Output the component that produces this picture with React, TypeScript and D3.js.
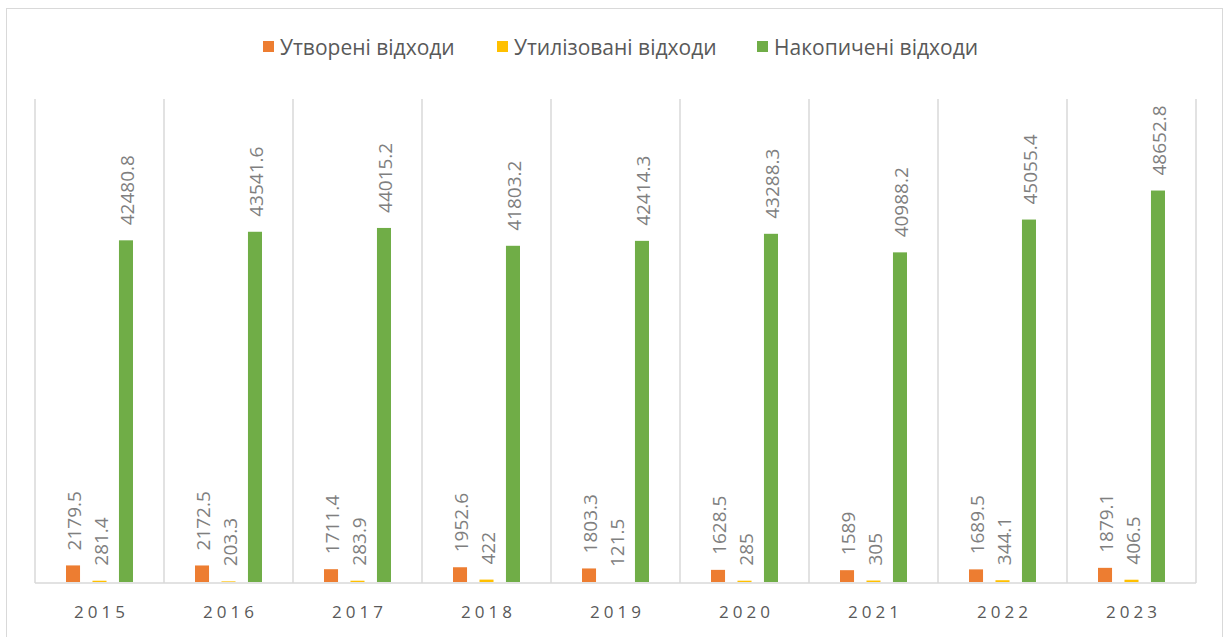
import React from "react";
import * as d3 from "d3";

const years = ["2015", "2016", "2017", "2018", "2019", "2020", "2021", "2022", "2023"];
const seriesNames = ["Утворені відходи", "Утилізовані відходи", "Накопичені відходи"];
const generated = [2179.5, 2172.5, 1711.4, 1952.6, 1803.3, 1628.5, 1589, 1689.5, 1879.1];
const utilized = [281.4, 203.3, 283.9, 422, 121.5, 285, 305, 344.1, 406.5];
const accumulated = [42480.8, 43541.6, 44015.2, 41803.2, 42414.3, 43288.3, 40988.2, 45055.4, 48652.8];
const labelsGenerated = ["2179.5", "2172.5", "1711.4", "1952.6", "1803.3", "1628.5", "1589", "1689.5", "1879.1"];
const labelsUtilized = ["281.4", "203.3", "283.9", "422", "121.5", "285", "305", "344.1", "406.5"];
const labelsAccumulated = ["42480.8", "43541.6", "44015.2", "41803.2", "42414.3", "43288.3", "40988.2", "45055.4", "48652.8"];
const colors = ["#ED7D31", "#FFC000", "#70AD47"];

const W = 1225;
const H = 637;
const left = 35;
const right = 1196;
const top = 99;
const bottom = 583;
const FONT = "'Open Sans', 'Noto Sans', sans-serif";

export default function App() {
  const x = d3.scaleBand<string>().domain(years).range([left, right]).paddingInner(0).paddingOuter(0);
  const inner = d3.scaleBand<number>().domain([0, 1, 2]).range([31, x.bandwidth() - 31]).paddingInner(0.47).paddingOuter(0);
  const y = d3.scaleLinear().domain([0, 60000]).range([bottom, top]);
  const series = [generated, utilized, accumulated];
  const labels = [labelsGenerated, labelsUtilized, labelsAccumulated];
  const bw = inner.bandwidth();

  const legendX = [263, 497, 757];

  return (
    <div style={{ position: "absolute", left: 0, top: 0, margin: 0 }}>
      <svg width={W} height={H} style={{ display: "block", fontFamily: FONT }}>
        <rect x={0} y={0} width={W} height={H} fill="#fff" />
        <rect x={6.5} y={8.5} width={1216} height={H + 10} fill="#fff" stroke="#d9d9d9" strokeWidth={1} />
        {/* legend */}
        {seriesNames.map((n, i) => (
          <g key={n}>
            <rect x={legendX[i]} y={41} width={11} height={11} fill={colors[i]} />
            <text x={legendX[i] + 17} y={54.5} fontSize={21} fill="#595959">{n}</text>
          </g>
        ))}
        {/* grid */}
        {[...years.map((yv) => x(yv) as number), right].map((gx, i) => (
          <line key={i} x1={gx} x2={gx} y1={top} y2={bottom} stroke="#d9d9d9" strokeWidth={1.5} />
        ))}
        <line x1={left} x2={right} y1={bottom} y2={bottom} stroke="#d9d9d9" strokeWidth={1.5} />
        {/* bars */}
        {years.map((yr, ci) => (
          <g key={yr}>
            {series.map((s, si) => {
              const bx = (x(yr) as number) + (inner(si) as number);
              const by = y(s[ci]);
              return (
                <g key={si}>
                  <rect x={bx} y={by} width={bw} height={bottom - by - 1} fill={colors[si]} />
                  <text
                    transform={`translate(${bx + bw + 1},${by - 15}) rotate(-90)`}
                    fontSize={19}
                    fill="#7f7f7f"
                  >
                    {labels[si][ci]}
                  </text>
                </g>
              );
            })}
            <text
              x={(x(yr) as number) + x.bandwidth() / 2 + 2}
              y={618}
              textAnchor="middle"
              fontSize={17}
              letterSpacing={4}
              fill="#595959"
            >
              {yr}
            </text>
          </g>
        ))}
      </svg>
    </div>
  );
}
